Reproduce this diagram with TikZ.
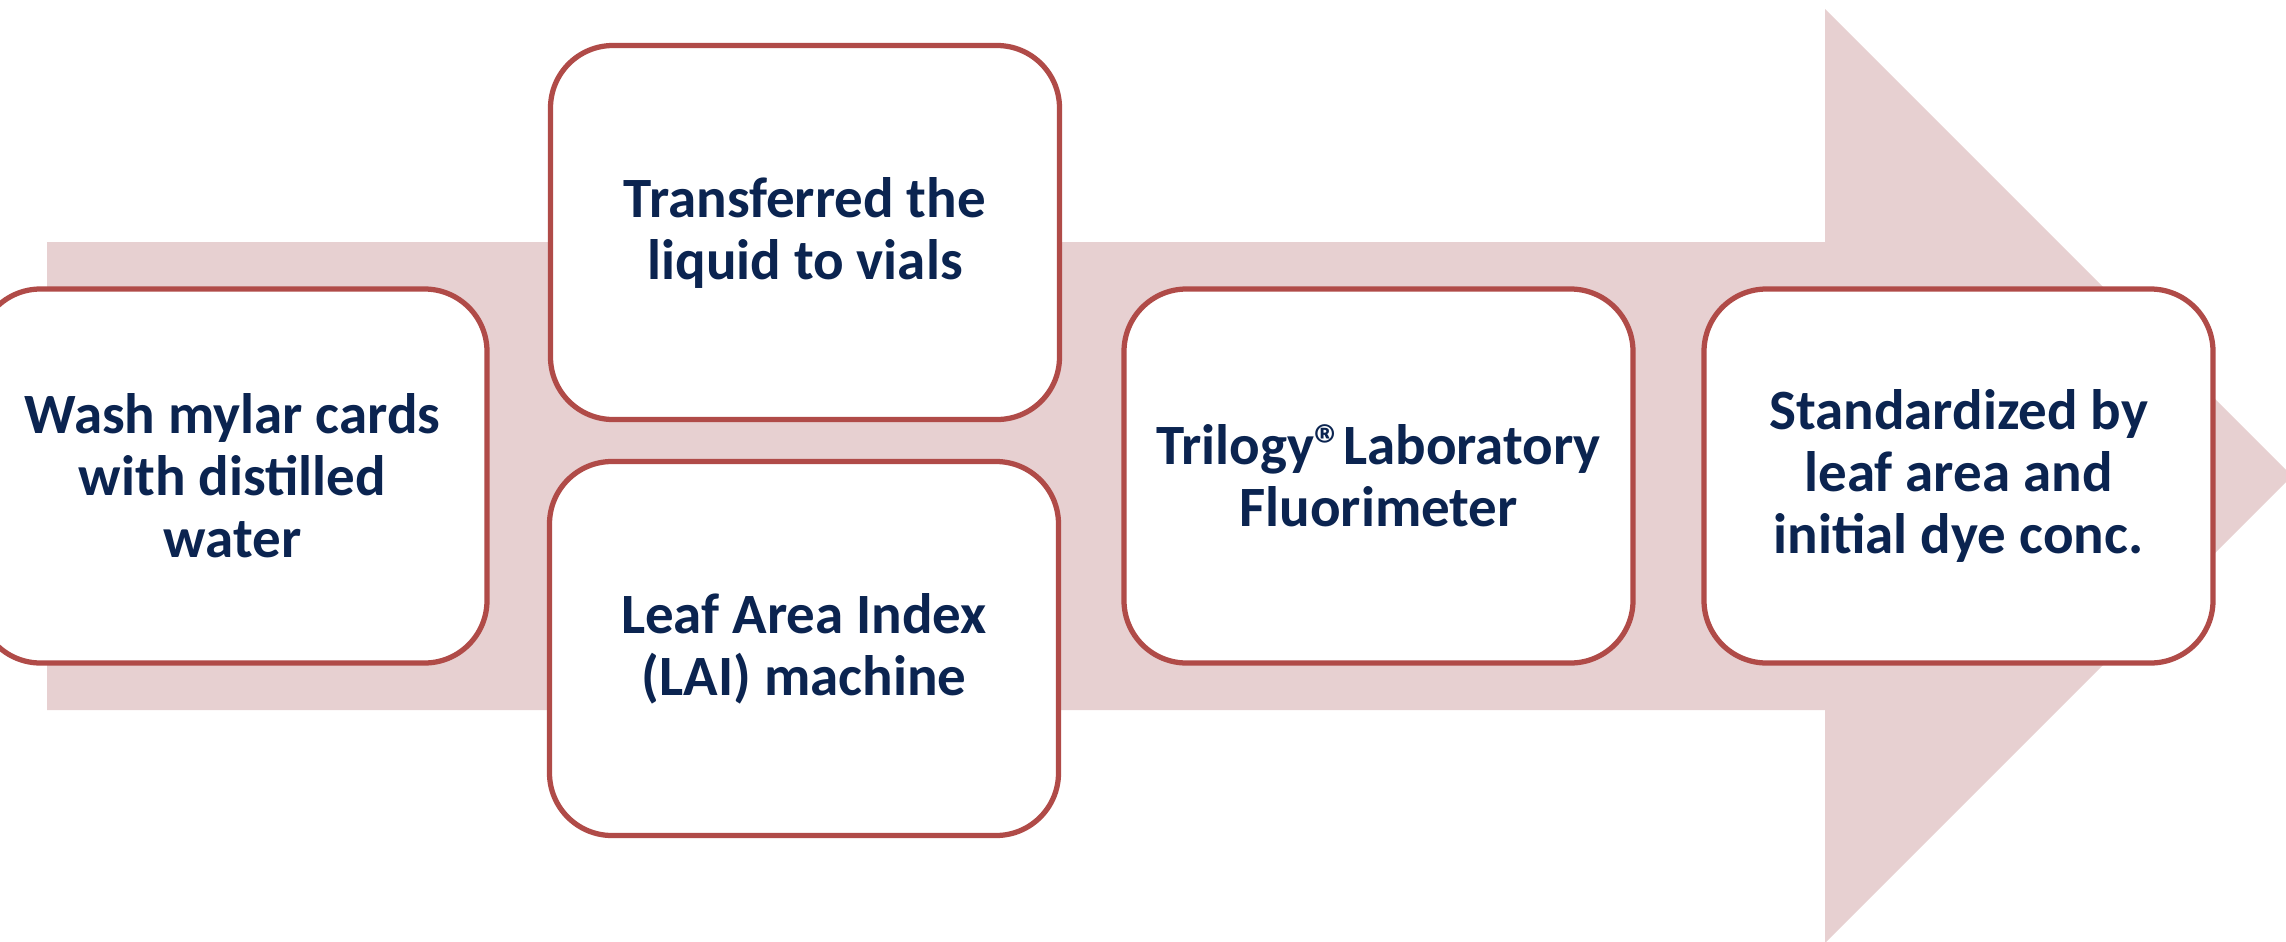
\documentclass[tikz,border=0pt]{standalone}
\usepackage{fontspec}
\setmainfont{Carlito}
\definecolor{arrowfill}{HTML}{E7D0D1}
\definecolor{boxline}{HTML}{B04B48}
\definecolor{navy}{HTML}{0B2450}
\begin{document}
\begin{tikzpicture}[x=0.4pt,y=-0.4pt,
  stepbox/.style={draw=boxline, line width=2.1pt, fill=white,
    rounded corners=25pt, minimum width=203.6pt, minimum height=149.6pt,
    align=center, text=navy, inner sep=0pt,
    font=\bfseries\fontsize{22.8pt}{24.8pt}\selectfont}]
\useasboundingbox (0,0) rectangle (2286,941);
\clip (0,0) rectangle (2286,941);
% broad process arrow behind the steps
\fill[arrowfill] (47,242) -- (1825,242) -- (1825,9) -- (2292,476)
  -- (1825,943) -- (1825,710) -- (47,710) -- cycle;
% process steps
\node[stepbox] (wash) at (232.5,476) {Wash mylar cards\\with distilled\\water};
\node[stepbox] (transfer) at (805,232.5) {Transferred the\\liquid to vials};
\node[stepbox] (lai) at (804,648.5) {Leaf Area Index\\(LAI) machine};
\node[stepbox] (trilogy) at (1378.5,476) {Trilogy®Laboratory\\Fluorimeter};
\node[stepbox] (standard) at (1958.5,476) {Standardized by\\leaf area and\\initial dye conc.};
\end{tikzpicture}
\end{document}
